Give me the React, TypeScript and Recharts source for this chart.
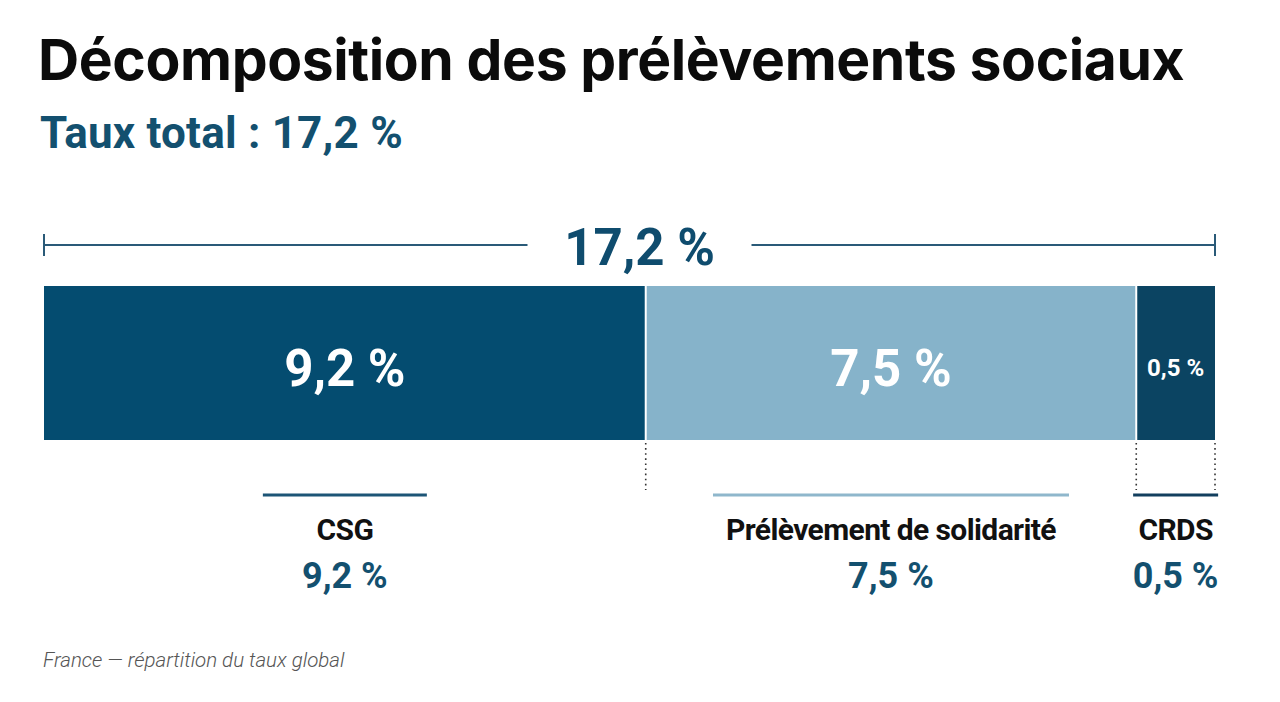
import { BarChart, Bar, XAxis, YAxis } from 'recharts';

const categories = ['CSG', 'Prélèvement de solidarité', 'CRDS'];
const rates = [9.2, 7.5, 0.5];
const totalRate = 17.2;

const barColors = ['#044c70', '#86b3ca', '#0b4462'];
const ruleColors = ['#1c5576', '#8fb7cc', '#123f5e'];
const ruleWidths = [164, 356, 85];
// tiny segments get a minimum visual share so their label fits
const MIN_SHARE = 0.07;

const FONT = 'Roboto, "Noto Sans", sans-serif';
const BLUE_TEXT = '#13506f';

const fmt = (v: number) => `${v.toFixed(1).replace('.', ',')} %`;

const keys = categories.map((_, i) => `s${i}`);
const displayValues = rates.map((v) => Math.max(v, totalRate * MIN_SHARE));
const displayTotal = displayValues.reduce((a, b) => a + b, 0);
const rows = [
  Object.fromEntries([['name', 'total'], ...keys.map((k, i) => [k, displayValues[i]])]),
];

function Segment(props: any, i: number) {
  const { x, y, width, height } = props;
  const cx = x + width / 2;
  const bottom = y + height;
  const big = width > 200;

  let bracket = null;
  if (i === 0) {
    const left = x;
    const right = x + (width * displayTotal) / displayValues[0];
    const mid = (left + right) / 2 + 10;
    const by = y - 41;
    const gap = 112;
    bracket = (
      <g stroke="#2a5a78" strokeWidth={2}>
        <line x1={left} x2={mid - gap} y1={by} y2={by} />
        <line x1={mid + gap} x2={right} y1={by} y2={by} />
        <line x1={left} x2={left} y1={by - 11} y2={by + 11} />
        <line x1={right} x2={right} y1={by - 11} y2={by + 11} />
        <text
          x={mid}
          y={by + 2}
          stroke="none"
          textAnchor="middle"
          dominantBaseline="central"
          fill="#0f4c6e"
          fontSize={51}
          fontWeight={700}
          fontFamily={FONT}
        >
          {fmt(totalRate)}
        </text>
      </g>
    );
  }

  return (
    <g>
      <rect x={x} y={y} width={width} height={height} fill={barColors[i]} />
      {i > 0 && <line x1={x} x2={x} y1={y} y2={bottom} stroke="#fff" strokeWidth={2} />}
      <text
        x={cx}
        y={y + height / 2 + 5}
        textAnchor="middle"
        dominantBaseline="central"
        fill="#fff"
        fontSize={big ? 51 : 24}
        fontWeight={700}
        fontFamily={FONT}
      >
        {fmt(rates[i])}
      </text>
      <line
        x1={x + width}
        x2={x + width}
        y1={bottom + 3}
        y2={bottom + 50}
        stroke="#333"
        strokeWidth={1.6}
        strokeDasharray="1.6 3.5"
      />
      <line
        x1={cx - ruleWidths[i] / 2}
        x2={cx + ruleWidths[i] / 2}
        y1={bottom + 55}
        y2={bottom + 55}
        stroke={ruleColors[i]}
        strokeWidth={3}
      />
      <text
        x={cx}
        y={bottom + 89}
        textAnchor="middle"
        dominantBaseline="central"
        fill="#111"
        fontSize={30}
        fontWeight={700}
        fontFamily={FONT}
        letterSpacing={-0.6}
      >
        {categories[i]}
      </text>
      <text
        x={cx}
        y={bottom + 136}
        textAnchor="middle"
        dominantBaseline="central"
        fill={BLUE_TEXT}
        fontSize={36}
        fontWeight={700}
        fontFamily={FONT}
      >
        {fmt(rates[i])}
      </text>
      {bracket}
    </g>
  );
}

export default function App() {
  return (
    <div
      style={{
        position: 'absolute',
        left: 0,
        top: 0,
        width: 1280,
        height: 702,
        background: '#fff',
        fontFamily: FONT,
      }}
    >
      <div
        style={{
          position: 'absolute',
          left: 38,
          top: 31,
          fontFamily: 'Inter, Roboto, sans-serif',
          fontSize: 57,
          lineHeight: '58px',
          fontWeight: 700,
          color: '#0b0b0b',
          letterSpacing: -0.4,
          whiteSpace: 'nowrap',
        }}
      >
        Décomposition des prélèvements sociaux
      </div>
      <div
        style={{
          position: 'absolute',
          left: 40,
          top: 111,
          fontSize: 44,
          lineHeight: '44px',
          fontWeight: 700,
          color: BLUE_TEXT,
          letterSpacing: 0.2,
          whiteSpace: 'nowrap',
        }}
      >
        Taux total : {fmt(totalRate)}
      </div>
      <BarChart
        width={1280}
        height={702}
        data={rows}
        layout="vertical"
        barCategoryGap={0}
        margin={{ top: 286, right: 65, bottom: 262, left: 44 }}
      >
        <XAxis type="number" hide domain={[0, displayTotal]} />
        <YAxis type="category" dataKey="name" hide />
        {keys.map((k, i) => (
          <Bar
            key={k}
            dataKey={k}
            stackId="a"
            isAnimationActive={false}
            shape={(p: any) => Segment(p, i)}
          />
        ))}
      </BarChart>
      <div
        style={{
          position: 'absolute',
          left: 43,
          top: 650,
          fontSize: 20.5,
          lineHeight: '20px',
          fontStyle: 'italic',
          fontWeight: 300,
          color: '#555',
          whiteSpace: 'nowrap',
        }}
      >
        France — répartition du taux global
      </div>
    </div>
  );
}
